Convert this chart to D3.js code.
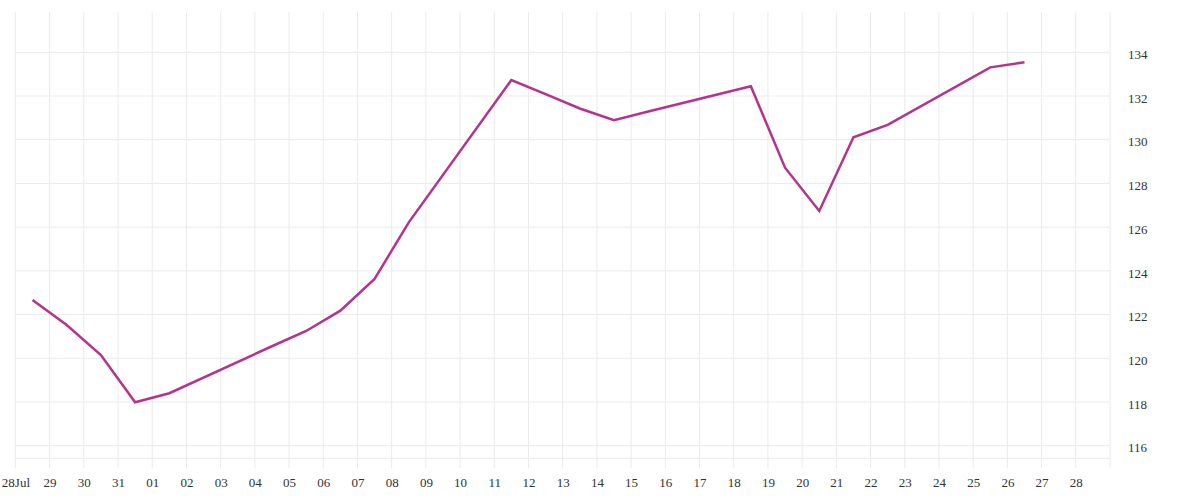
<!DOCTYPE html>
<html>
<head>
<meta charset="utf-8">
<script src="https://cdn.jsdelivr.net/npm/d3@7"></script>
<style>
  html, body { margin: 0; padding: 0; background: #fff; }
  svg { display: block; }
</style>
</head>
<body>
<svg id="chart" width="1200" height="500"></svg>
<script>
// ---- data ----
const dates = ["2014-07-28","2014-07-29","2014-07-30","2014-07-31","2014-08-01",
               "2014-08-04","2014-08-05","2014-08-06","2014-08-07","2014-08-08",
               "2014-08-11","2014-08-12","2014-08-13","2014-08-14","2014-08-15",
               "2014-08-18","2014-08-19","2014-08-20","2014-08-21","2014-08-22",
               "2014-08-25","2014-08-26"];
const values = [122.67,121.52,120.15,117.99,118.40,
                120.55,121.25,122.18,123.63,126.22,
                132.73,132.09,131.43,130.89,131.29,
                132.45,128.72,126.74,130.11,130.68,
                133.31,133.54];
const yTicks = [116,118,120,122,124,126,128,130,132,134];
const xStart = "2014-07-28", xEnd = "2014-08-29";

(function () {
// ---- layout ----
const svg = d3.select("#chart");
const mLeft = 15.4, mRight = 1110, mTop = 12.3, mBottom = 458.3;
const gridColor = "#ebebeb";
const parse = d3.utcParse("%Y-%m-%d");

const x = d3.scaleUtc().domain([parse(xStart), parse(xEnd)]).range([mLeft, mRight]);
const y = d3.scaleLinear().domain([116, 134]).range([445.7, 52.3]);

const days = d3.utcDay.range(parse(xStart), d3.utcDay.offset(parse(xEnd), 1));

// vertical gridlines
svg.append("g").selectAll("line").data(days).join("line")
  .attr("x1", d => x(d)).attr("x2", d => x(d))
  .attr("y1", mTop).attr("y2", mBottom + 10)
  .attr("stroke", gridColor).attr("stroke-width", 1);

// horizontal gridlines
svg.append("g").selectAll("line").data(yTicks).join("line")
  .attr("x1", mLeft).attr("x2", mRight)
  .attr("y1", d => y(d)).attr("y2", d => y(d))
  .attr("stroke", gridColor).attr("stroke-width", 1);
svg.append("line")
  .attr("x1", mLeft).attr("x2", mRight).attr("y1", mBottom).attr("y2", mBottom)
  .attr("stroke", gridColor).attr("stroke-width", 1);

const font = "'Liberation Serif', 'DejaVu Serif', serif";

// x axis labels
const labelDays = days.slice(0, days.length - 1);
const xAxis = d3.axisBottom(x).tickValues(labelDays).tickSize(0).tickPadding(19)
  .tickFormat((d, i) => i === 0 ? d3.utcFormat("%d%b")(d) : d3.utcFormat("%d")(d));
const gx = svg.append("g").attr("transform", `translate(0,${mBottom})`).call(xAxis);
gx.select(".domain").remove();
gx.selectAll("text").attr("font-family", font).attr("font-size", 13).attr("fill", "#333");

// y axis labels (right)
const yAxis = d3.axisRight(y).tickValues(yTicks).tickSize(0).tickPadding(18);
const gy = svg.append("g").attr("transform", `translate(${mRight},0)`).call(yAxis);
gy.select(".domain").remove();
gy.selectAll("text").attr("font-family", font).attr("font-size", 13).attr("fill", "#333")
  .attr("dy", "0.48em");

// line
const pts = dates.map((d, i) => ({ t: d3.utcHour.offset(parse(d), 12), v: values[i] }));
const line = d3.line().x(d => x(d.t)).y(d => y(d.v));
svg.append("path").datum(pts)
  .attr("d", line)
  .attr("fill", "none")
  .attr("stroke", "#b5338a")
  .attr("stroke-width", 2.5)
  .attr("stroke-linejoin", "miter");
})();
</script>
</body>
</html>
